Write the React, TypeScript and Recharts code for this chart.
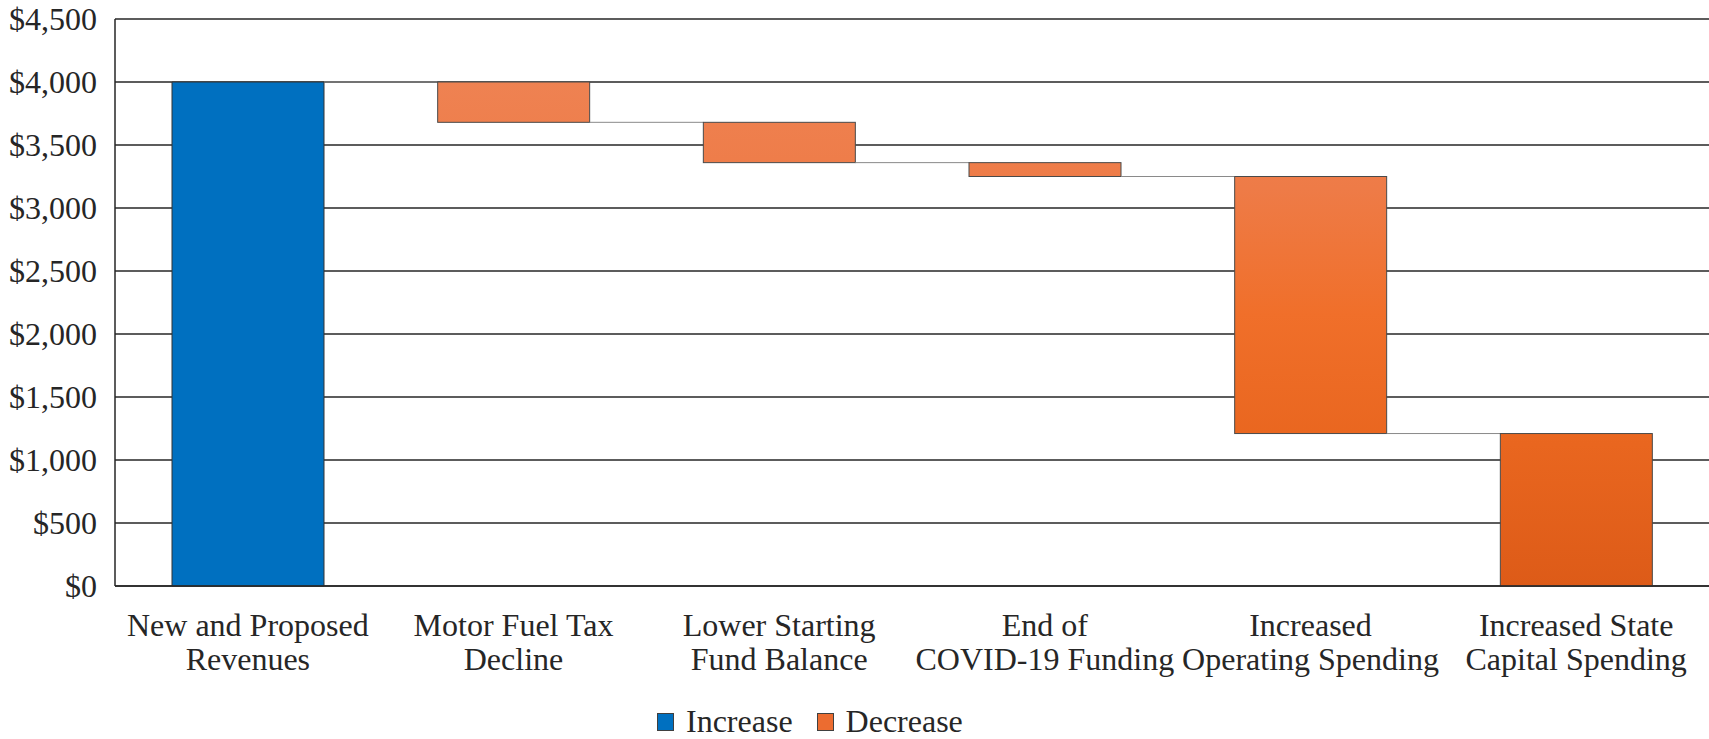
import React from 'react';
import { BarChart, Bar, XAxis, YAxis, CartesianGrid, Legend } from 'recharts';

const categories = [
  'New and Proposed\nRevenues',
  'Motor Fuel Tax\nDecline',
  'Lower Starting\nFund Balance',
  'End of\nCOVID-19 Funding',
  'Increased\nOperating Spending',
  'Increased State\nCapital Spending',
];
const increaseValues = [4000, 0, 0, 0, 0, 0];
const decreaseValues = [0, 320, 320, 110, 2040, 1210];
const yTicks = [0, 500, 1000, 1500, 2000, 2500, 3000, 3500, 4000, 4500];
const legendNames = ['Increase', 'Decrease'];
const legendColors = ['#0070C0', '#EC6C30'];

const FONT = '"Liberation Serif", "Times New Roman", serif';
const FONT_SIZE = 32;
const CHART_W = 1709;
const CHART_H = 739;
const Y_AXIS_W = 115;
const X_AXIS_H = 153;
const BAR_SIZE = 152;
const TEXT = '#262626';

let running = 0;
const data = categories.map((name, i) => {
  let base: number;
  if (increaseValues[i] > 0) {
    base = running;
    running += increaseValues[i];
  } else {
    running -= decreaseValues[i];
    base = running;
  }
  return { name, base, increase: increaseValues[i], decrease: decreaseValues[i] };
});

const catWidth = (CHART_W - Y_AXIS_W) / categories.length;
const gap = catWidth - BAR_SIZE;

const fmt = (v: number) => '$' + v.toString().replace(/\B(?=(\d{3})+(?!\d))/g, ',');

const DecShape = (props: any) => {
  const { x, y, width, height } = props;
  if (!height || height <= 0) return null;
  return (
    <g>
      <line x1={x - gap} y1={y} x2={x} y2={y} stroke="#8a8a8a" strokeWidth={1} />
      <rect x={x} y={y} width={width} height={height} fill="url(#orangeGrad)" stroke="#4a4a4a" strokeWidth={1} />
    </g>
  );
};

const CatTick = (props: any) => {
  const { x, y, payload } = props;
  const lines = String(payload.value).split('\n');
  return (
    <text x={x} y={y} textAnchor="middle" fill={TEXT} fontSize={FONT_SIZE} fontFamily={FONT}>
      {lines.map((l, i) => (
        <tspan key={i} x={x} dy={i === 0 ? 48 : 34}>
          {l}
        </tspan>
      ))}
    </text>
  );
};

const renderLegend = (props: any) => {
  const present = new Set((props.payload || []).map((p: any) => p.value));
  const items = legendNames.filter((n) => present.has(n));
  return (
    <div style={{ display: 'flex', alignItems: 'center', fontFamily: FONT, fontSize: FONT_SIZE, color: TEXT }}>
      {items.map((n, i) => (
        <div key={n} style={{ display: 'flex', alignItems: 'center', marginRight: 24 }}>
          <span
            style={{
              display: 'inline-block',
              width: 17,
              height: 18,
              background: legendColors[legendNames.indexOf(n)],
              border: '1px solid #404040',
              marginRight: 12,
              boxSizing: 'border-box',
            }}
          />
          <span>{n}</span>
        </div>
      ))}
    </div>
  );
};

export default function App() {
  return (
    <div style={{ position: 'absolute', left: 0, top: 0, width: CHART_W, height: CHART_H, background: '#fff' }}>
      <BarChart
        width={CHART_W}
        height={CHART_H}
        data={data}
        margin={{ top: 19, right: 0, bottom: 0, left: 0 }}
        barSize={BAR_SIZE}
      >
        <defs>
          <linearGradient id="orangeGrad" gradientUnits="userSpaceOnUse" x1="0" y1="19" x2="0" y2="586">
            <stop offset="0" stopColor="#EF8658" />
            <stop offset="0.3" stopColor="#EE7B47" />
            <stop offset="0.52" stopColor="#F06F2A" />
            <stop offset="0.75" stopColor="#E9661F" />
            <stop offset="1" stopColor="#DD5B18" />
          </linearGradient>
        </defs>
        <CartesianGrid vertical={false} stroke="#262626" strokeWidth={1.5} />
        <XAxis
          dataKey="name"
          height={X_AXIS_H}
          interval={0}
          tickLine={false}
          tickSize={0}
          axisLine={{ stroke: '#262626', strokeWidth: 1.5 }}
          tick={<CatTick />}
        />
        <YAxis
          width={Y_AXIS_W}
          domain={[0, 4500]}
          ticks={yTicks}
          interval={0}
          tickFormatter={fmt}
          tickLine={false}
          tickSize={0}
          tickMargin={18}
          axisLine={{ stroke: '#262626', strokeWidth: 1.5 }}
          tick={{ fontSize: FONT_SIZE, fill: TEXT, fontFamily: FONT }}
        />
        <Legend
          verticalAlign="middle"
          align="center"
          content={renderLegend}
          wrapperStyle={{ left: 657, top: 703, width: 380, height: 40 }}
        />
        <Bar dataKey="base" stackId="w" fill="transparent" legendType="none" isAnimationActive={false} />
        <Bar
          dataKey="increase"
          name="Increase"
          stackId="w"
          fill="#0070C0"
          stroke="#333333"
          strokeWidth={1}
          isAnimationActive={false}
        />
        <Bar
          dataKey="decrease"
          name="Decrease"
          stackId="w"
          fill="url(#orangeGrad)"
          shape={DecShape}
          isAnimationActive={false}
        />
      </BarChart>
    </div>
  );
}
